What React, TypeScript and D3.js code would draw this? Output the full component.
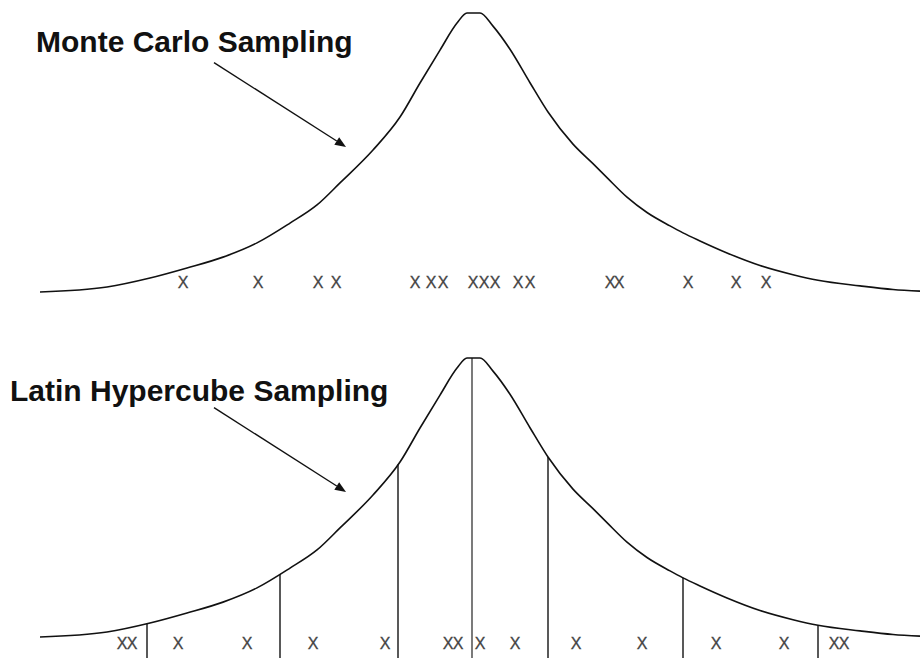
import React from "react";
import * as d3 from "d3";

// ---- data (z = standardized position, d = relative density, peak = 1) ----
const curveZ = [-4.32, -3.65, -3.22, -2.85, -2.49, -2.15, -1.82, -1.55, -1.32, -0.99, -0.72, -0.52, -0.32, -0.15, -0.05, 0.08, 0.21, 0.38, 0.58, 0.76, 1.01, 1.21, 1.35, 1.55, 1.75, 1.98, 2.11, 2.28, 2.55, 2.88, 3.21, 3.46, 3.88, 4.21, 4.48];
const curveD = [0.0, 0.018, 0.05, 0.086, 0.125, 0.176, 0.247, 0.312, 0.391, 0.509, 0.627, 0.749, 0.867, 0.964, 1.0, 1.0, 0.953, 0.87, 0.75, 0.645, 0.53, 0.46, 0.41, 0.34, 0.285, 0.237, 0.212, 0.183, 0.14, 0.095, 0.062, 0.042, 0.022, 0.009, 0.003];

// Monte Carlo samples
const mcSamples = [-2.89, -2.14, -1.54, -1.36, -0.57, -0.41, -0.29, 0.01, 0.12, 0.23, 0.46, 0.58, 1.38, 1.47, 2.16, 2.64, 2.94];
// Latin Hypercube strata boundaries and samples
const lhsBoundaries = [-3.25, -1.92, -0.74, 0.0, 0.76, 2.11, 3.46];
const lhsSamples = [-3.5, -3.4, -2.94, -2.25, -1.59, -0.87, -0.24, -0.14, 0.08, 0.43, 1.04, 1.7, 2.44, 3.12, 3.62, 3.72];

const titles = ["Monte Carlo Sampling", "Latin Hypercube Sampling"];
// arrow: tail and tip in (z, d)
const arrowZ = [-2.58, -1.26];
const arrowD = [0.822, 0.52];

const W = 920;
const H = 658;

const x = d3.scaleLinear().domain([-4.32, 4.48]).range([40, 920]);
const yTop = d3.scaleLinear().domain([0, 1]).range([292, 13]);
const yBot = d3.scaleLinear().domain([0, 1]).range([637, 358]);

const pts = curveZ.map((z, i) => [z, curveD[i]] as [number, number]);
const interp = (z: number) => {
  for (let i = 0; i < curveZ.length - 1; i++) {
    if (z >= curveZ[i] && z <= curveZ[i + 1]) {
      const t = (z - curveZ[i]) / (curveZ[i + 1] - curveZ[i]);
      return curveD[i] + t * (curveD[i + 1] - curveD[i]);
    }
  }
  return 0;
};

function Panel({ y, title, titleX, titleY, markerY, lines }: any) {
  const line = d3
    .line<[number, number]>()
    .x((d) => x(d[0]))
    .y((d) => y(d[1]))
    .curve(d3.curveMonotoneX);
  const x1 = x(arrowZ[0]);
  const y1 = y(arrowD[0]);
  const x2 = x(arrowZ[1]);
  const y2 = y(arrowD[1]);
  const ang = Math.atan2(y2 - y1, x2 - x1);
  const hl = 11;
  const hw = 4.5;
  const bx = x2 - hl * Math.cos(ang);
  const by = y2 - hl * Math.sin(ang);
  const head = [
    [x2, y2],
    [bx + hw * Math.sin(ang), by - hw * Math.cos(ang)],
    [bx - hw * Math.sin(ang), by + hw * Math.cos(ang)],
  ];
  const samples = lines ? lhsSamples : mcSamples;
  return (
    <g>
      {lines &&
        lhsBoundaries.map((b, i) => (
          <line
            key={i}
            x1={x(b)}
            x2={x(b)}
            y1={y(interp(b))}
            y2={H}
            stroke="#222"
            strokeWidth={b === 0 ? 1.2 : 1.5}
          />
        ))}
      <path d={line(pts) || ""} fill="none" stroke="#111" strokeWidth={1.6} />
      <text
        x={titleX}
        y={titleY}
        fontFamily="'Liberation Sans', Arial, sans-serif"
        fontWeight="bold"
        fontSize={30}
        fill="#111"
      >
        {title}
      </text>
      <line x1={x1} y1={y1} x2={bx} y2={by} stroke="#111" strokeWidth={1.4} />
      <polygon points={head.map((p) => p.join(",")).join(" ")} fill="#111" />
      {samples.map((s, i) => (
        <text
          key={i}
          x={x(s)}
          y={markerY}
          textAnchor="middle"
          fontFamily="'Liberation Sans', Arial, sans-serif"
          fontSize={16}
          fill="#444"
          stroke="#444"
          strokeWidth={0.3}
        >
          X
        </text>
      ))}
    </g>
  );
}

export default function App() {
  return (
    <svg
      width={W}
      height={H}
      style={{ position: "absolute", left: 0, top: 0, background: "#fff" }}
    >
      <rect width={W} height={H} fill="#fff" />
      <Panel y={yTop} title={titles[0]} titleX={36} titleY={52} markerY={288} lines={false} />
      <Panel y={yBot} title={titles[1]} titleX={10} titleY={401} markerY={649} lines={true} />
    </svg>
  );
}
